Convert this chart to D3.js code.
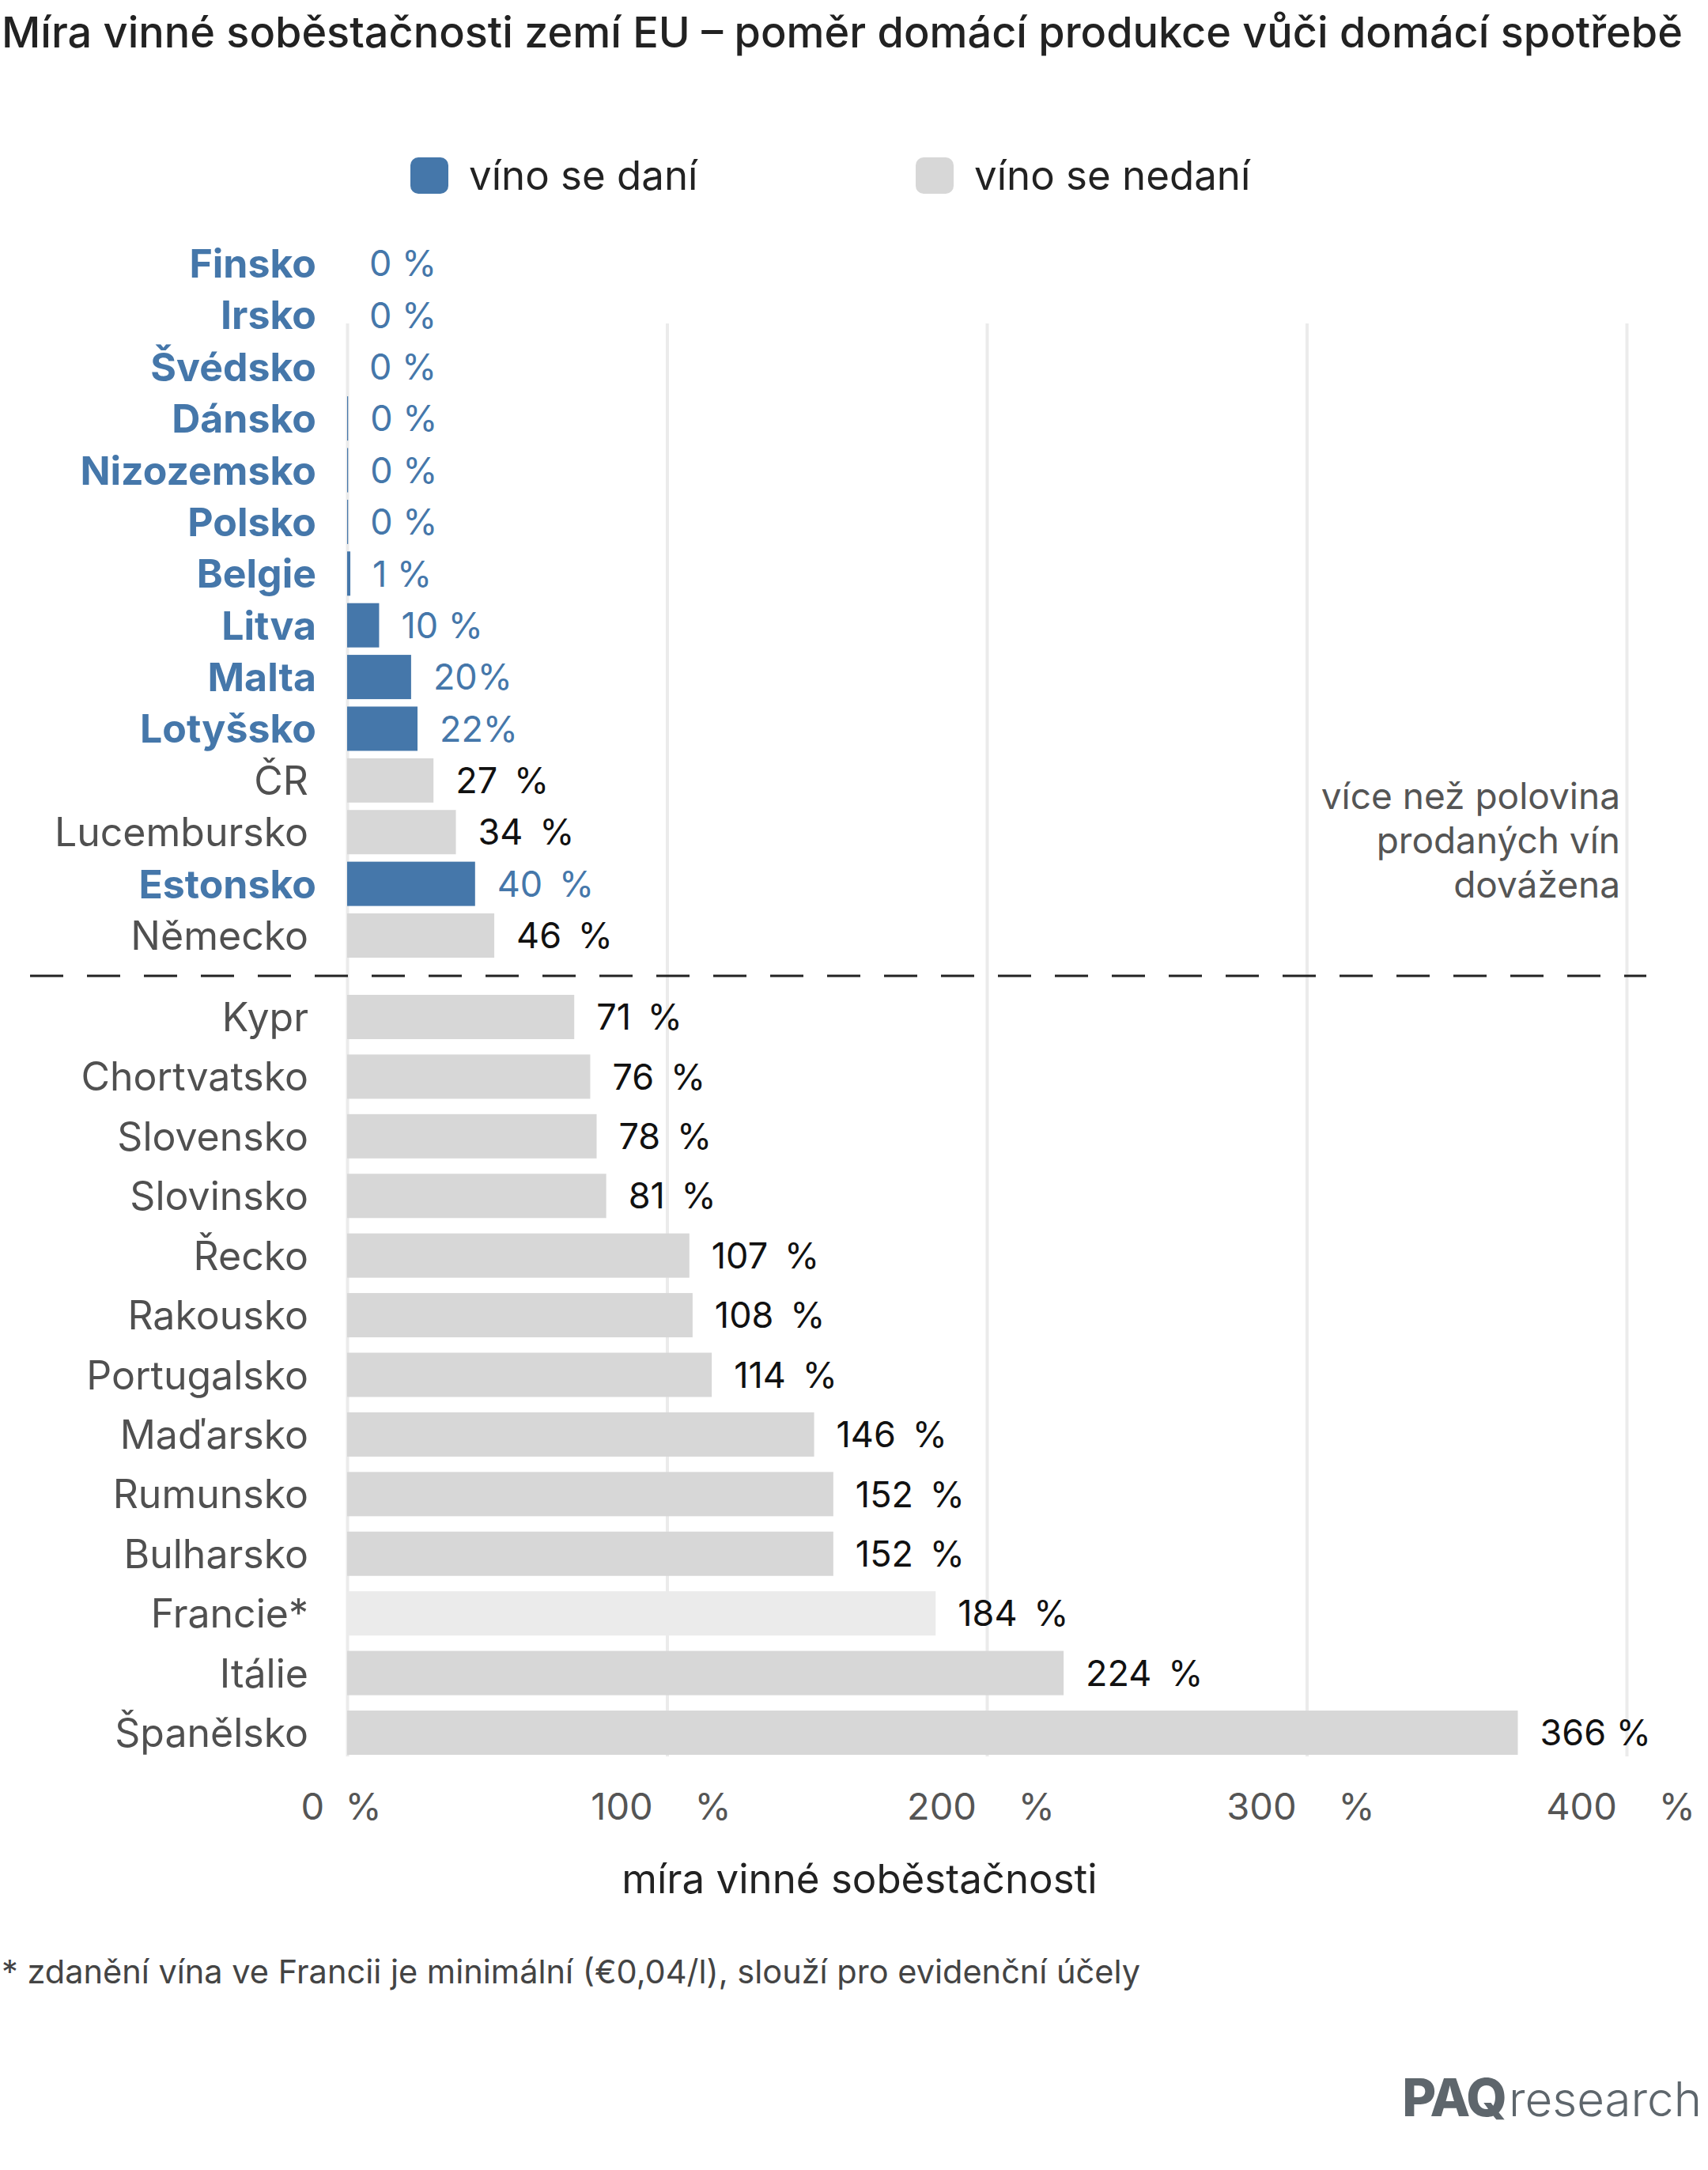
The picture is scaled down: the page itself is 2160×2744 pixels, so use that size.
<!DOCTYPE html>
<html><head><meta charset="utf-8">
<script src="https://cdn.jsdelivr.net/npm/d3@7"></script>
<style>
html,body{margin:0;padding:0;background:#fff;}
svg text{font-family:Inter,"Noto Sans",sans-serif;}
</style></head>
<body>
<svg id="chart" width="2160" height="2744"></svg>
<script>
const countries = ["Finsko","Irsko","Švédsko","Dánsko","Nizozemsko","Polsko","Belgie","Litva","Malta","Lotyšsko","ČR","Lucembursko","Estonsko","Německo",
  "Kypr","Chortvatsko","Slovensko","Slovinsko","Řecko","Rakousko","Portugalsko","Maďarsko","Rumunsko","Bulharsko","Francie*","Itálie","Španělsko"];
const values = [0,0,0,0.3,0.3,0.3,1,10,20,22,27,34,40,46,71,76,78,81,107,108,114,146,152,152,184,224,366];
const taxed = [1,1,1,1,1,1,1,1,1,1,0,0,1,0,0,0,0,0,0,0,0,0,0,0,0,0,0];
const valueLabels = ["0 %","0 %","0 %","0 %","0 %","0 %","1 %","10 %","20%","22%","27 \u2009%","34 \u2009%","40 \u2009%","46 \u2009%",
  "71 \u2009%","76 \u2009%","78 \u2009%","81 \u2009%","107 \u2009%","108 \u2009%","114 \u2009%","146 \u2009%","152 \u2009%","152 \u2009%","184 \u2009%","224 \u2009%","366 %"];
const group = countries.map((c,i)=> i<14 ? "top" : "bottom");
const lightCountries = ["Francie*"];
const xTicks = [0,100,200,300,400];
const legendItems = ["víno se daní","víno se nedaní"];
const annotationLines = ["více než polovina","prodaných vín","dovážena"];

const BLUE = "#4577aa", GRAY = "#d7d7d7", LIGHT = "#ebebeb";
const svg = d3.select("#chart");

// title
svg.append("text").attr("x",2).attr("y",60).attr("font-size",54).attr("font-weight",500)
  .attr("fill","#222").text("Míra vinné soběstačnosti zemí EU – poměr domácí produkce vůči domácí spotřebě");

// legend
const legX = [519,1158];
legendItems.forEach((t,i)=>{
  svg.append("rect").attr("x",legX[i]).attr("y",199).attr("width",48).attr("height",46).attr("rx",10)
    .attr("fill", i===0?BLUE:GRAY);
  svg.append("text").attr("x",legX[i]+74).attr("y",222).attr("dy","0.35em").attr("font-size",51)
    .attr("fill","#222").text(t);
});

const x = d3.scaleLinear().domain([0,400]).range([439,2057]);
const topC = countries.filter((c,i)=>group[i]==="top");
const botC = countries.filter((c,i)=>group[i]==="bottom");
const yTop = d3.scalePoint().domain(topC).range([333,1183]);
const yBot = d3.scalePoint().domain(botC).range([1286,2191]);
const yPos = (c,i)=> group[i]==="top" ? yTop(c) : yBot(c);
const barH = 56;

// gridlines
const grid = svg.append("g").attr("transform","translate(0,2221)")
  .call(d3.axisBottom(x).tickValues(xTicks).tickSize(-(2221-409)).tickFormat(""));
grid.select(".domain").remove();
grid.selectAll("line").attr("stroke","#ebebeb").attr("stroke-width",4);

// bars
const data = countries.map((c,i)=>({c,i,v:values[i],t:taxed[i],lab:valueLabels[i]}));
svg.append("g").selectAll("rect").data(data).join("rect")
  .attr("x",x(0)).attr("y",d=>yPos(d.c,d.i)-barH/2)
  .attr("width",d=>x(d.v)-x(0)).attr("height",barH)
  .attr("fill",d=>d.t?BLUE:(lightCountries.includes(d.c)?LIGHT:GRAY));

// country labels
svg.append("g").selectAll("text").data(data).join("text")
  .attr("x",d=>d.t?400:390).attr("y",d=>yPos(d.c,d.i)).attr("dy","0.36em").attr("text-anchor","end")
  .attr("font-size",50).attr("font-weight",d=>d.t?700:400)
  .attr("fill",d=>d.t?BLUE:"#505050").text(d=>d.c);

// value labels
svg.append("g").selectAll("text").data(data).join("text")
  .attr("x",d=>x(d.v)+28).attr("y",d=>yPos(d.c,d.i)).attr("dy","0.36em")
  .attr("font-size",45).style("white-space","pre")
  .attr("fill",d=>d.t?BLUE:"#111").text(d=>d.lab);

// dashed separator
svg.append("line").attr("x1",38).attr("x2",2082).attr("y1",1234).attr("y2",1234)
  .attr("stroke","#222").attr("stroke-width",3).attr("stroke-dasharray","42,30");

// annotation
annotationLines.forEach((t,i)=>{
  svg.append("text").attr("x",2049).attr("y",1007+i*56).attr("dy","0.35em").attr("text-anchor","end")
    .attr("font-size",46).attr("fill","#555").text(t);
});

// x axis labels
const xa = svg.append("g").attr("transform","translate(-8,2268)")
  .call(d3.axisBottom(x).tickValues(xTicks).tickSize(0).tickPadding(0)
    .tickFormat(d=> d===0 ? "0  %" : d + "    %"));
xa.select(".domain").remove();
xa.selectAll("text").attr("font-size",47).attr("fill","#555").style("white-space","pre")
  .attr("font-family","Inter,'Noto Sans',sans-serif");

svg.append("text").attr("x",1087).attr("y",2376).attr("dy","0.35em").attr("text-anchor","middle")
  .attr("font-size",51).attr("fill","#222").text("míra vinné soběstačnosti");

// footnote
svg.append("text").attr("x",2).attr("y",2493).attr("dy","0.35em").attr("font-size",41.5).attr("fill","#444")
  .text("* zdanění vína ve Francii je minimální (€0,04/l), slouží pro evidenční účely");

// logo
const logo = svg.append("text").attr("x",2152).attr("y",2676).attr("text-anchor","end").attr("fill","#5e666c");
logo.append("tspan").attr("font-size",66).attr("font-weight",800).attr("letter-spacing",-2).text("PAQ");
logo.append("tspan").attr("font-size",60).attr("font-weight",300).attr("dx",4).text("research");
</script>
</body></html>
